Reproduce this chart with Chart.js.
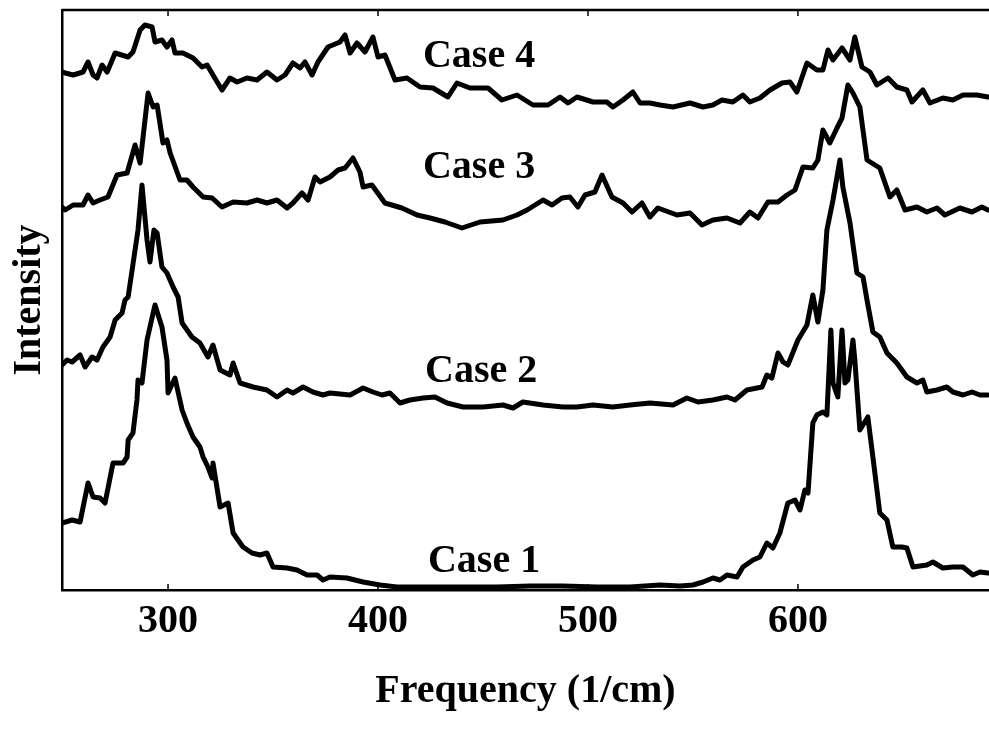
<!DOCTYPE html>
<html>
<head>
<meta charset="utf-8">
<title>Frequency spectra</title>
<script src="https://cdn.jsdelivr.net/npm/chart.js@4.4.1/dist/chart.umd.min.js"></script>
<style>
  html, body { margin: 0; padding: 0; background: #fff; }
</style>
</head>
<body>
<canvas id="spectra" width="989" height="733"></canvas>
<script>
// spectra, stacked with an offset (arbitrary intensity units)
const case1Freq = [249.5,254.3,258.1,261.9,264.3,267.6,270.0,273.8,278.6,280.5,
  281.0,283.3,285.2,285.7,287.6,290.0,292.9,293.8,297.1,299.5,
  300.0,303.3,306.7,309.0,311.9,315.2,316.7,319.0,321.0,321.4,
  324.8,328.6,331.0,335.7,340.0,343.8,347.1,350.0,356.7,361.4,
  366.2,371.0,373.8,377.1,385.2,392.9,401.0,409.0,424.8,440.5,
  456.7,472.4,488.1,504.3,520.0,534.3,543.8,550.0,554.8,559.5,
  562.9,566.2,571.0,573.8,578.6,581.9,585.2,588.1,591.4,595.2,
  598.6,601.0,603.3,604.8,607.1,609.0,611.9,613.8,615.7,616.7,
  619.0,621.0,622.4,623.8,626.2,627.1,629.5,633.3,635.7,639.0,
  642.4,645.2,649.5,651.9,654.8,661.4,664.3,669.0,673.8,678.6,
  683.3,686.7,690.5];
const case1Int = [6.7,7.0,6.8,10.7,9.3,9.2,8.7,12.7,12.7,13.3,
  15.0,15.7,19.0,21.0,20.7,25.0,27.7,28.5,26.3,23.0,
  19.7,21.2,18.0,16.7,15.3,14.3,13.3,12.3,11.2,12.7,
  8.3,8.7,5.7,4.3,3.7,3.5,3.7,2.3,2.2,2.0,
  1.5,1.5,1.0,1.3,1.2,0.8,0.5,0.3,0.3,0.3,
  0.3,0.4,0.4,0.3,0.3,0.5,0.4,0.5,0.8,1.2,
  1.0,1.5,1.3,2.3,3.0,3.3,4.7,4.2,5.7,8.7,
  9.0,8.0,10.0,9.7,16.7,17.5,17.8,17.5,26.0,20.7,
  19.3,26.0,20.7,21.0,25.0,23.0,16.0,17.3,13.3,7.7,
  7.0,4.3,4.3,4.2,2.3,2.5,2.8,2.2,2.3,2.3,
  1.5,1.8,1.7];

const case2Freq = [249.5,251.9,254.3,258.1,260.5,263.8,266.2,269.0,272.4,274.8,
  278.1,279.5,281.0,285.7,287.6,290.0,291.4,293.3,294.8,297.1,
  299.5,302.4,304.8,306.7,311.4,315.2,319.0,321.4,324.8,329.5,
  331.0,334.3,340.5,347.1,351.9,356.7,359.5,364.3,369.0,373.8,
  377.1,386.7,392.9,397.6,401.9,405.7,410.5,415.2,421.4,427.1,
  432.9,440.5,450.0,459.5,464.3,469.0,478.6,488.1,494.8,502.4,
  511.9,520.0,529.5,540.5,547.1,552.4,559.5,566.2,570.0,575.7,
  580.5,582.9,585.2,587.6,590.5,592.9,595.2,600.0,604.3,607.1,
  609.5,611.9,613.8,616.7,620.0,621.4,624.8,628.1,631.0,632.9,
  635.7,639.0,642.4,647.1,651.9,656.7,659.5,661.4,666.2,670.9,
  673.8,678.6,682.9,686.7,690.5];
const case2Int = [22.5,23.0,22.8,23.5,22.3,23.3,23.0,24.3,25.3,27.0,
  27.7,29.0,29.3,36.0,40.5,35.0,32.8,36.0,35.7,32.3,
  31.7,30.3,29.3,26.7,25.3,24.7,23.3,24.5,22.0,21.5,
  22.7,20.7,20.3,20.0,19.3,20.0,19.7,20.3,19.8,19.5,
  19.7,19.5,20.2,19.8,19.5,19.7,18.7,19.0,19.2,19.3,
  18.7,18.3,18.3,18.5,18.2,18.8,18.5,18.3,18.3,18.5,
  18.3,18.5,18.7,18.5,19.2,18.8,19.0,19.3,19.0,20.0,
  20.2,20.3,21.5,21.2,23.7,22.8,22.5,25.0,26.5,29.5,
  26.8,30.0,36.0,39.0,43.0,40.3,36.7,31.7,31.3,29.0,
  25.8,25.3,23.7,22.7,21.3,20.7,21.0,19.8,20.0,20.3,
  19.8,19.5,19.8,19.5,19.5];

const case3Freq = [249.5,251.0,254.8,259.5,261.9,264.3,267.6,271.4,275.7,280.5,
  284.3,286.7,290.5,292.9,294.8,297.6,299.5,301.0,305.7,309.0,
  311.9,316.7,321.0,325.7,331.0,337.6,342.4,347.1,351.9,356.7,
  359.5,363.8,366.7,370.0,372.4,377.1,381.0,384.3,388.1,391.4,
  392.9,397.1,403.3,411.4,418.6,424.8,431.9,440.0,448.6,459.5,
  466.2,471.0,478.6,482.9,487.6,491.4,495.2,498.6,503.3,506.7,
  511.4,516.7,521.0,525.7,529.5,533.3,542.4,548.6,554.3,559.5,
  566.2,572.4,577.1,581.0,585.7,590.5,594.8,598.6,602.4,607.1,
  609.5,611.9,615.2,618.6,621.0,623.8,626.2,629.5,632.9,639.0,
  643.8,647.1,651.0,656.7,661.4,666.2,670.0,677.1,682.9,687.6,
  690.5];
const case3Int = [38.3,38.0,38.5,38.5,39.5,38.7,39.0,39.3,41.5,41.7,
  44.5,42.7,49.7,48.3,48.5,44.7,45.0,43.7,41.0,41.0,
  40.3,39.3,39.2,38.3,38.8,38.7,39.0,38.7,39.0,38.2,
  38.7,39.7,39.0,41.3,40.8,41.3,42.0,42.2,43.2,41.8,
  40.3,40.5,38.7,38.2,37.5,37.2,36.8,36.2,36.8,37.0,
  37.5,38.0,39.0,38.5,39.2,39.3,38.3,39.5,39.8,41.5,
  39.3,38.7,37.8,38.7,37.3,38.2,37.5,37.7,36.5,37.0,
  37.2,36.7,37.8,37.2,38.8,38.8,39.5,40.0,42.3,42.2,
  43.0,46.0,44.7,46.2,47.2,50.5,49.7,48.3,43.0,42.2,
  39.3,40.0,38.0,38.3,37.8,38.2,37.5,38.2,37.8,38.3,
  38.0];

const case4Freq = [249.5,251.0,254.8,259.5,261.9,264.3,266.2,268.6,271.0,274.8,
  281.0,283.3,286.7,289.0,292.4,293.8,297.1,299.5,301.9,303.3,
  307.1,311.9,316.2,318.6,321.4,325.7,329.5,332.9,337.6,342.4,
  347.1,351.9,355.7,359.5,362.9,365.2,368.6,371.4,376.2,381.9,
  384.3,386.7,390.0,393.8,397.6,400.0,403.3,408.1,413.8,420.0,
  426.2,433.3,437.6,443.8,452.4,459.0,466.2,473.8,481.0,486.7,
  490.5,494.8,502.4,509.0,511.9,516.7,521.4,524.8,529.5,534.3,
  540.5,548.6,554.8,559.5,563.8,569.0,573.8,577.1,581.9,586.7,
  592.4,596.2,599.5,604.3,609.0,611.9,614.3,616.7,621.0,624.8,
  627.1,630.5,634.3,637.6,642.9,647.1,651.9,654.3,659.5,662.9,
  669.0,673.8,678.6,685.2,690.5];
const case4Int = [51.8,51.7,51.5,51.8,52.8,51.5,51.2,52.5,51.8,53.7,
  53.3,53.8,56.0,56.5,56.3,54.8,55.0,54.3,55.0,53.7,
  53.7,53.2,52.3,52.5,51.5,50.0,51.2,50.8,51.2,51.0,
  51.8,51.0,51.5,52.7,52.2,52.8,51.5,52.8,54.3,54.8,
  55.5,53.7,54.7,53.8,55.3,53.3,53.5,51.0,51.2,50.3,
  50.2,49.3,50.7,50.2,50.2,49.0,49.5,48.5,48.5,49.3,
  48.7,49.3,48.8,48.8,48.3,49.0,49.8,48.7,48.7,48.5,
  48.3,48.7,48.3,48.5,49.0,48.8,49.5,48.8,49.2,50.0,
  50.7,50.8,49.8,52.7,52.0,52.0,54.0,53.0,54.2,53.0,
  55.3,52.3,51.8,50.5,51.2,50.3,50.0,48.8,50.0,48.7,
  49.2,49.0,49.5,49.5,49.3];

const xTicks = [300, 400, 500, 600];

// curve names, written next to each trace
const caseLabels = ['Case 4', 'Case 3', 'Case 2', 'Case 1'];
const labelFreq = [421.4, 421.4, 422.4, 423.8];
const labelInt = [52.3, 41.2, 20.8, 1.8];

const serif = 'Liberation Serif, Times New Roman, serif';

function toPoints(xs, ys) {
  return xs.map((x, i) => ({ x: x, y: ys[i] }));
}

function traceSet(label, xs, ys) {
  return {
    label: label,
    data: toPoints(xs, ys),
    borderColor: '#000',
    borderWidth: 5,
    borderJoinStyle: 'round',
    borderCapStyle: 'round',
    pointRadius: 0,
    tension: 0,
    fill: false
  };
}

// top frame line, inward tick marks and the case names
const framePlugin = {
  id: 'frame',
  afterDraw(chart) {
    const { ctx, chartArea, scales } = chart;
    ctx.save();
    ctx.strokeStyle = '#000';
    ctx.lineWidth = 2.5;
    ctx.beginPath();
    ctx.moveTo(chartArea.left, chartArea.top);
    ctx.lineTo(chartArea.right, chartArea.top);
    ctx.stroke();

    ctx.lineWidth = 1.5;
    xTicks.forEach(v => {
      const px = scales.x.getPixelForValue(v);
      ctx.beginPath();
      ctx.moveTo(px, chartArea.bottom);
      ctx.lineTo(px, chartArea.bottom - 6);
      ctx.moveTo(px, chartArea.top);
      ctx.lineTo(px, chartArea.top + 6);
      ctx.stroke();
    });

    ctx.fillStyle = '#000';
    ctx.font = 'bold 40px ' + serif;
    ctx.textAlign = 'left';
    ctx.textBaseline = 'alphabetic';
    caseLabels.forEach((t, i) => {
      ctx.fillText(t, scales.x.getPixelForValue(labelFreq[i]), scales.y.getPixelForValue(labelInt[i]));
    });
    ctx.restore();
  }
};

const ctx = document.getElementById('spectra').getContext('2d');
new Chart(ctx, {
  type: 'line',
  data: {
    datasets: [
      traceSet('Case 1', case1Freq, case1Int),
      traceSet('Case 2', case2Freq, case2Int),
      traceSet('Case 3', case3Freq, case3Int),
      traceSet('Case 4', case4Freq, case4Int)
    ]
  },
  options: {
    responsive: false,
    animation: false,
    layout: { padding: { top: 10, right: 0, bottom: 0, left: 0 } },
    plugins: {
      legend: { display: false },
      tooltip: { enabled: false }
    },
    scales: {
      x: {
        type: 'linear',
        min: 249.5,
        max: 691,
        afterBuildTicks: scale => { scale.ticks = xTicks.map(v => ({ value: v })); },
        grid: { display: true, drawOnChartArea: false, drawTicks: false },
        border: { display: true, color: '#000', width: 2.5 },
        ticks: {
          color: '#000',
          padding: 12,
          maxRotation: 0,
          font: { family: serif, size: 40, weight: 'bold', lineHeight: 1 }
        },
        title: {
          display: true,
          text: 'Frequency (1/cm)',
          color: '#000',
          font: { family: serif, size: 40, weight: 'bold', lineHeight: 1 },
          padding: { top: 18, bottom: 21 }
        }
      },
      y: {
        min: 0,
        max: 58,
        grid: { display: false, drawTicks: false },
        border: { display: true, color: '#000', width: 2.5 },
        ticks: { display: false },
        title: {
          display: true,
          text: 'Intensity',
          color: '#000',
          font: { family: serif, size: 40, weight: 'bold', lineHeight: 1 },
          padding: { top: 10, bottom: 12 }
        }
      }
    }
  },
  plugins: [framePlugin]
});
</script>
</body>
</html>
